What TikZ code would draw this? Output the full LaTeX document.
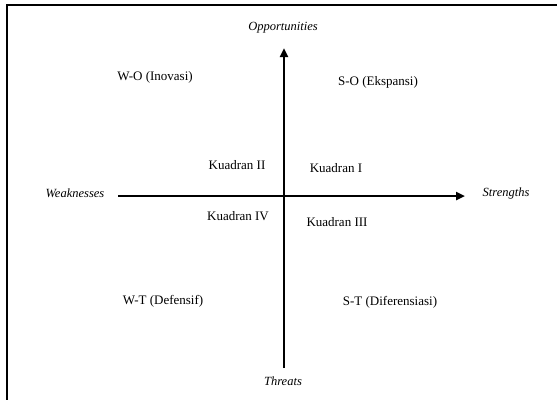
\documentclass[tikz,border=0pt]{standalone}
\usepackage{fontspec}
\setmainfont{Liberation Serif}
\usetikzlibrary{arrows.meta}
\begin{document}
\begin{tikzpicture}[x=1pt,y=-1pt,
  lbl/.style={inner sep=0pt,font=\fontsize{13}{15}\selectfont},
  axlbl/.style={inner sep=0pt,font=\fontsize{12.5}{14}\selectfont\itshape},
  axis/.style={line width=2.4pt,-{Triangle[length=9pt,width=8pt]}},
  frame/.style={line width=1.8pt}]
\useasboundingbox (0,0) rectangle (557,400);
\coordinate (tl) at (7,5);
\coordinate (tr) at (557,5);
\coordinate (bl) at (7,400);
\draw[frame] (tr) -- (tl) -- (bl);
\coordinate (vb) at (284,368);
\coordinate (vt) at (284,48);
\coordinate (hl) at (118,196);
\coordinate (hr) at (465,196);
\draw[axis] (vb) -- (vt);
\draw[axis] (hl) -- (hr);
\node[axlbl] (opp) at (283,28) {Opportunities};
\node[axlbl] (thr) at (283,381) {Threats};
\node[axlbl] (weak) at (75,193) {Weaknesses};
\node[axlbl] (str) at (506,193) {Strengths};
\node[lbl] (wo) at (155,77) {W-O (Inovasi)};
\node[lbl] (so) at (378,82) {S-O (Ekspansi)};
\node[lbl] (k2) at (237,165) {Kuadran II};
\node[lbl] (k1) at (336,168) {Kuadran I};
\node[lbl] (k4) at (238,216) {Kuadran IV};
\node[lbl] (k3) at (337,222) {Kuadran III};
\node[lbl] (wt) at (163,301) {W-T (Defensif)};
\node[lbl] (st) at (390,302) {S-T (Diferensiasi)};
\end{tikzpicture}
\end{document}
